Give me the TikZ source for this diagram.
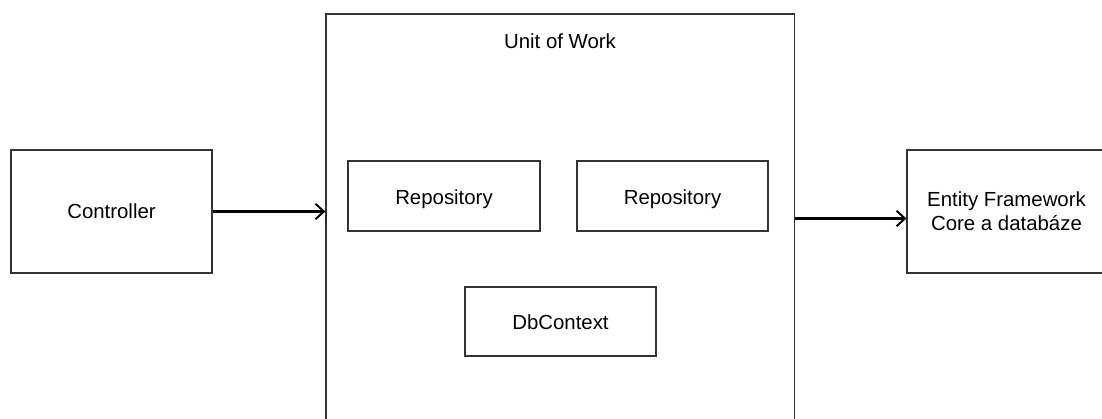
\documentclass[tikz,border=0pt]{standalone}
\usepackage{fontspec}
\setmainfont{Liberation Sans}
\usetikzlibrary{positioning, arrows.meta}

\begin{document}
\begin{tikzpicture}[x=0.025cm, y=-0.025cm]
    \tikzstyle{block} = [draw=black!80, line width=0.8pt, rectangle, inner sep=0pt, align=center, font=\fontsize{14.5}{17}\selectfont];
    \tikzstyle{low} = [text height=14pt, text depth=2pt];
    \tikzstyle{flow} = [line width=1.6pt, -{Straight Barb[length=6pt, width=11pt, line width=1.4pt]}];

    \useasboundingbox (0, 0) rectangle (1102, 419);
    \clip (0, 0) rectangle (1102, 419);

    \node[block, minimum width=5.025cm, minimum height=3.075cm] at (111.5, 211.5) (ctrl) {Controller};
    \node[block, minimum width=11.7cm, minimum height=10.225cm] at (560, 218.5) (uow) {};
    \node[block, draw=none] at (560, 41) (uowtitle) {Unit of Work};

    \node[block, low, minimum width=4.8cm, minimum height=1.75cm] at (444, 196) (repoa) {Repository};
    \node[block, low, minimum width=4.775cm, minimum height=1.75cm] at (672.5, 196) (repob) {Repository};
    \node[block, low, minimum width=4.775cm, minimum height=1.725cm] at (560.5, 321.5) (db) {DbContext};

    \node[block, minimum width=4.975cm, minimum height=3.075cm] at (1006.5, 211.5) (ef) {Entity Framework\\Core a datab\'aze};

    \draw[flow] (ctrl.east) -- (ctrl.east -| uow.west);
    \draw[flow] (uow.east) -- (uow.east -| ef.west);
\end{tikzpicture}
\end{document}
